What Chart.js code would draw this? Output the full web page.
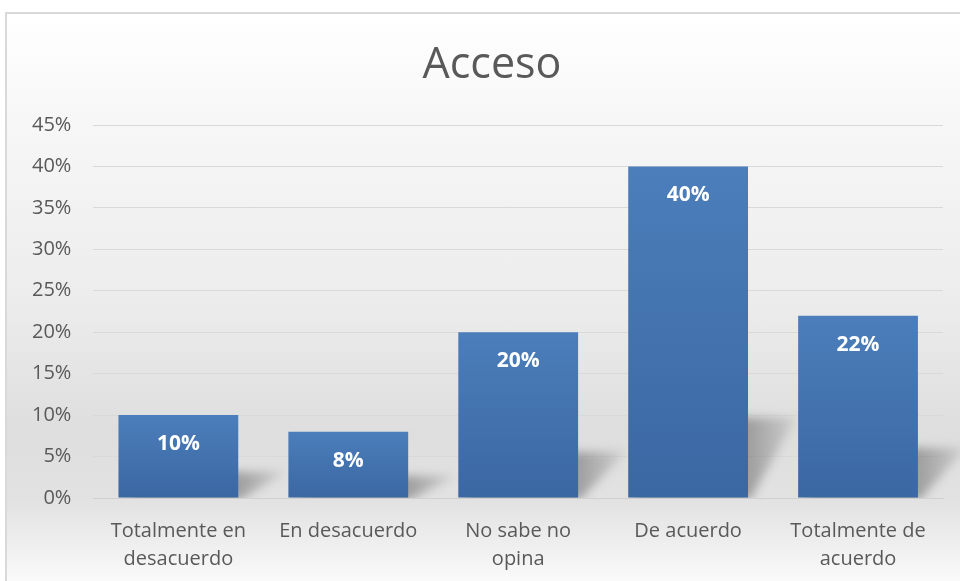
<!DOCTYPE html>
<html lang="es">
<head>
<meta charset="UTF-8">
<title>Acceso</title>
<script src="https://cdn.jsdelivr.net/npm/chart.js"></script>
<style>
    html, body { margin: 0; padding: 0; background: #ffffff; overflow: hidden; }
    #marco {
        position: absolute;
        left: 5px; top: 12px;
        width: 960px; height: 580px;
        border-top: 2px solid #d9d9d9;
        border-left: 2px solid #d9d9d9;
        background: linear-gradient(to bottom, #ffffff 0%, #f7f7f7 18%, #ececec 50%, #dedede 72%, #e2e2e2 84%, #f3f3f3 94%, #ffffff 100%);
    }
    #lienzo { position: absolute; left: 0; top: 0; }
</style>
</head>
<body>
<div id="marco"></div>
<canvas id="lienzo" width="960" height="601"></canvas>
<script>
// Datos de la encuesta
const titulo = 'Acceso';
const categorias = [
    ['Totalmente en', 'desacuerdo'],
    'En desacuerdo',
    ['No sabe no', 'opina'],
    'De acuerdo',
    ['Totalmente de', 'acuerdo']
];
const porcentajes = [10, 8, 20, 40, 22];
const etiquetasEje = ['0%', '5%', '10%', '15%', '20%', '25%', '30%', '35%', '40%', '45%'];

const fuente = "'Open Sans', 'DejaVu Sans', sans-serif";
const gris = '#595959';

// Título centrado sobre el marco completo
const encabezado = {
    id: 'encabezado',
    afterDraw(chart) {
        const ctx = chart.ctx;
        ctx.save();
        ctx.font = "43px " + fuente;
        ctx.fillStyle = gris;
        ctx.textAlign = 'center';
        ctx.textBaseline = 'middle';
        ctx.fillText(titulo, 492, 66);
        ctx.restore();
    }
};

// Sombra en perspectiva detrás de cada barra
const sombras = {
    id: 'sombras',
    beforeDatasetsDraw(chart) {
        const ctx = chart.ctx;
        const area = chart.chartArea;
        ctx.save();
        ctx.beginPath();
        ctx.rect(area.left, area.top, area.right - area.left + 20, area.bottom - area.top);
        ctx.clip();
        ctx.filter = 'blur(5px)';
        chart.getDatasetMeta(0).data.forEach(barra => {
            const izq = barra.x - barra.width / 2;
            const der = barra.x + barra.width / 2;
            const alto = barra.base - barra.y;
            const hs = Math.min(alto * 0.24 + 6, 80);
            const grad = ctx.createLinearGradient(der, 0, der + 55, 0);
            grad.addColorStop(0, 'rgba(60,60,60,0.40)');
            grad.addColorStop(1, 'rgba(60,60,60,0.04)');
            ctx.fillStyle = grad;
            ctx.beginPath();
            ctx.moveTo(izq + 5, barra.base + 2);
            ctx.lineTo(der + 2, barra.base + 2);
            ctx.lineTo(der + 48, barra.base - hs);
            ctx.lineTo(izq + 48, barra.base - hs);
            ctx.closePath();
            ctx.fill();
        });
        ctx.restore();
    }
};

// Porcentaje escrito dentro de cada barra
const etiquetas = {
    id: 'etiquetas',
    afterDatasetsDraw(chart) {
        const ctx = chart.ctx;
        ctx.save();
        ctx.font = "bold 21px " + fuente;
        ctx.fillStyle = '#ffffff';
        ctx.textAlign = 'center';
        ctx.textBaseline = 'middle';
        chart.getDatasetMeta(0).data.forEach((barra, i) => {
            ctx.fillText(porcentajes[i] + '%', barra.x, barra.y + 29);
        });
        ctx.restore();
    }
};

new Chart(document.getElementById('lienzo'), {
    type: 'bar',
    data: {
        labels: categorias,
        datasets: [{
            data: porcentajes,
            backgroundColor: function (c) {
                const chart = c.chart;
                const area = chart.chartArea;
                if (!area) return '#4472b0';
                const y = chart.scales.y;
                const v = porcentajes[c.dataIndex] || 0;
                const g = chart.ctx.createLinearGradient(0, y.getPixelForValue(v), 0, y.getPixelForValue(0));
                g.addColorStop(0, '#4b7ebb');
                g.addColorStop(1, '#3b67a2');
                return g;
            },
            borderWidth: 0,
            barPercentage: 0.705,
            categoryPercentage: 1.0
        }]
    },
    options: {
        responsive: false,
        animation: false,
        events: [],
        layout: { padding: { left: 10, right: 17, top: 125, bottom: 9 } },
        plugins: {
            legend: { display: false },
            tooltip: { enabled: false },
            title: { display: false }
        },
        scales: {
            x: {
                grid: { display: false, drawTicks: false },
                border: { display: true, color: '#d0d0d0', width: 1 },
                ticks: {
                    color: gris,
                    font: { family: fuente, size: 20, lineHeight: 1.4 },
                    padding: 19,
                    maxRotation: 0,
                    autoSkip: false
                }
            },
            y: {
                min: 0,
                max: 45,
                grid: { color: '#d9d9d9', lineWidth: 1, drawTicks: false },
                border: { display: false },
                ticks: {
                    stepSize: 5,
                    color: gris,
                    font: { family: fuente, size: 20 },
                    padding: 22,
                    callback: (v) => etiquetasEje[Math.round(v / 5)]
                }
            }
        }
    },
    plugins: [sombras, etiquetas, encabezado]
});
</script>
</body>
</html>
